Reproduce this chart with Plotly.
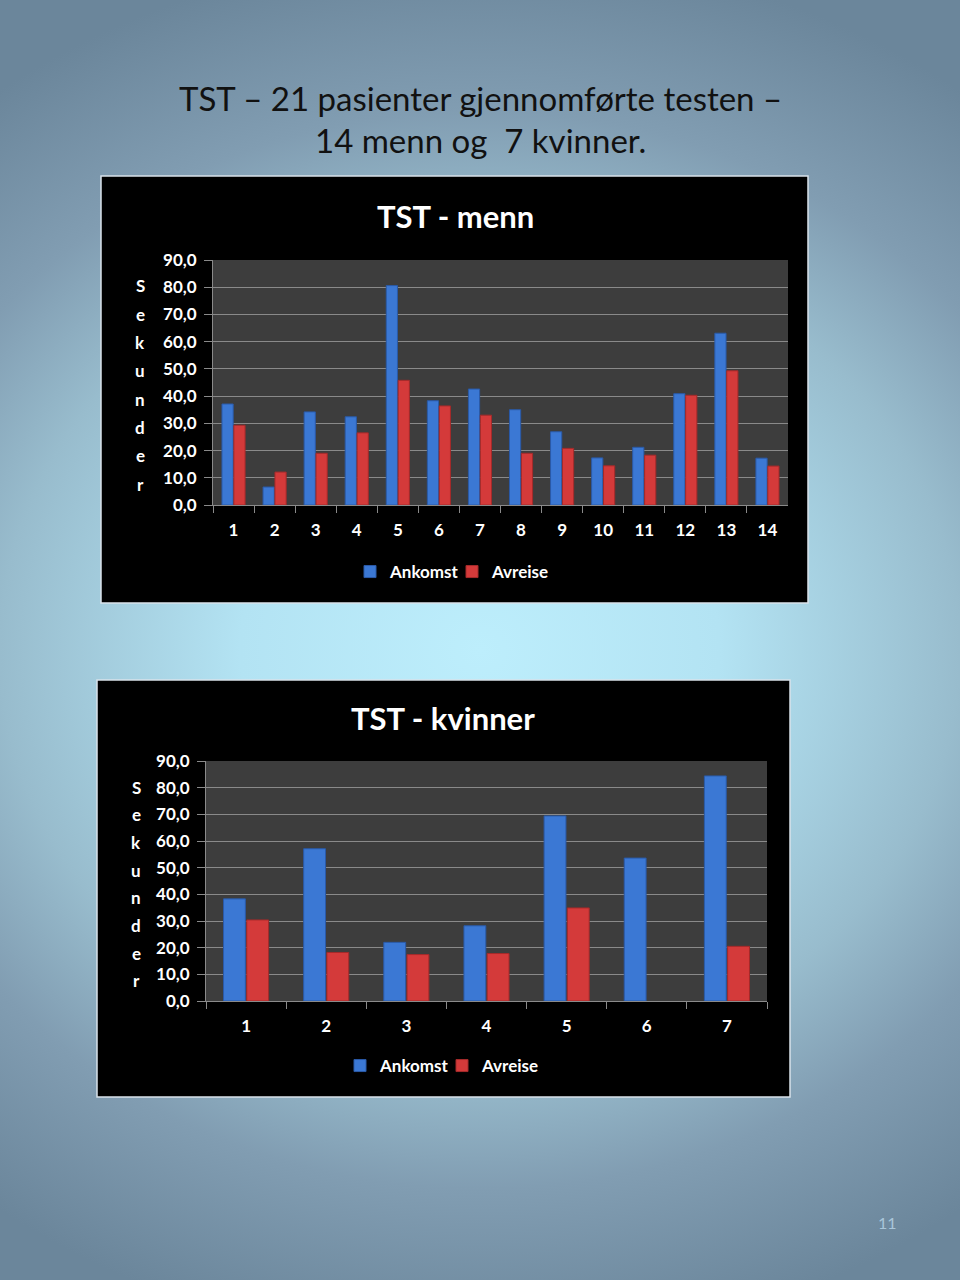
import base64
import plotly.graph_objects as go

# ---------------- data ----------------
men_patients = ["1", "2", "3", "4", "5", "6", "7", "8", "9", "10", "11", "12", "13", "14"]
men_ankomst = [37.1, 6.6, 34.2, 32.4, 80.6, 38.3, 42.6, 35.0, 26.9, 17.3, 21.2, 40.9, 63.1, 17.2]
men_avreise = [29.3, 12.1, 19.0, 26.5, 45.8, 36.4, 33.0, 19.0, 20.8, 14.4, 18.3, 40.3, 49.3, 14.3]

women_patients = ["1", "2", "3", "4", "5", "6", "7"]
women_ankomst = [38.3, 57.1, 22.0, 28.2, 69.4, 53.6, 84.4]
women_avreise = [30.4, 18.2, 17.4, 17.8, 34.9, None, 20.5]

y_tickvals = [0, 10, 20, 30, 40, 50, 60, 70, 80, 90]
y_ticktext = ["0,0", "10,0", "20,0", "30,0", "40,0", "50,0", "60,0", "70,0", "80,0", "90,0"]

series_names = ["Ankomst", "Avreise"]
y_title_letters = ["S", "e", "k", "u", "n", "d", "e", "r"]

page_title_1 = "TST – 21 pasienter gjennomførte testen –"
page_title_2 = "14 menn og  7 kvinner."
chart_title_men = "TST - menn"
chart_title_women = "TST - kvinner"
page_number = "11"

# ---------------- style ----------------
W, H = 960, 1280
BLUE = "#3b78d4"
BLUE_LINE = "#2a5aa8"
RED = "#d43a3a"
RED_LINE = "#a52a2a"
PLOT_BG = "#3d3d3d"
GRID = "#8a8a8a"
FONT = "Lato"


def px(x):
    return x / W


def py(y):
    return 1 - y / H


svg = f"""<svg xmlns="http://www.w3.org/2000/svg" width="{W}" height="{H}" viewBox="0 0 {W} {H}" preserveAspectRatio="none">
<defs><radialGradient id="g" gradientUnits="userSpaceOnUse" cx="480" cy="650" r="800"
 gradientTransform="translate(480 650) scale(1 0.875) translate(-480 -650)">
<stop offset="0" stop-color="#bdeefc"/>
<stop offset="0.3" stop-color="#b3e3f3"/>
<stop offset="0.6" stop-color="#98bccd"/>
<stop offset="0.77" stop-color="#819db2"/>
<stop offset="1" stop-color="#6b869b"/>
</radialGradient></defs>
<rect x="0" y="0" width="{W}" height="{H}" fill="url(#g)"/></svg>"""
bg_uri = "data:image/svg+xml;base64," + base64.b64encode(svg.encode("utf-8")).decode("ascii")

fig = go.Figure()

fig.add_trace(go.Bar(x=men_patients, y=men_ankomst, name=series_names[0],
                     marker=dict(color=BLUE, line=dict(color=BLUE_LINE, width=1)),
                     xaxis="x", yaxis="y", legend="legend"))
fig.add_trace(go.Bar(x=men_patients, y=men_avreise, name=series_names[1],
                     marker=dict(color=RED, line=dict(color=RED_LINE, width=1)),
                     xaxis="x", yaxis="y", legend="legend"))
fig.add_trace(go.Bar(x=women_patients, y=women_ankomst, name=series_names[0],
                     marker=dict(color=BLUE, line=dict(color=BLUE_LINE, width=1)),
                     xaxis="x2", yaxis="y2", legend="legend2"))
fig.add_trace(go.Bar(x=women_patients, y=women_avreise, name=series_names[1],
                     marker=dict(color=RED, line=dict(color=RED_LINE, width=1)),
                     xaxis="x2", yaxis="y2", legend="legend2"))

tickfont = dict(family=FONT, size=17, color="white", weight="bold")

xaxis_common = dict(type="category", showgrid=False, showline=True, linecolor=GRID, linewidth=1,
                    ticks="outside", tickson="boundaries", ticklen=7, tickcolor=GRID,
                    tickfont=tickfont, ticklabelstandoff=10, fixedrange=True, automargin=False)
yaxis_common = dict(range=[0, 90], tickvals=y_tickvals, ticktext=y_ticktext, showgrid=True,
                    gridcolor=GRID, gridwidth=1, showline=True, linecolor=GRID, linewidth=1,
                    ticks="outside", ticklen=8, tickcolor=GRID, tickfont=tickfont,
                    ticklabelstandoff=4, zeroline=False, fixedrange=True, automargin=False)

shapes = []
annotations = []


def panel(x0, y0, x1, y1, pl, pt, pr, pb):
    shapes.append(dict(type="rect", xref="paper", yref="paper", x0=px(x0), x1=px(x1),
                       y0=py(y1), y1=py(y0), fillcolor="black",
                       line=dict(color="#d9e2ea", width=1.5), layer="below"))
    shapes.append(dict(type="rect", xref="paper", yref="paper", x0=px(pl), x1=px(pr),
                       y0=py(pb), y1=py(pt), fillcolor=PLOT_BG, line=dict(width=0), layer="below"))


panel(101, 176, 808, 603, 213, 260, 788, 505)
panel(97, 680, 790, 1097, 206, 761, 767, 1001)

# page titles
annotations.append(dict(text=page_title_1, x=px(480), y=py(98), xref="paper", yref="paper",
                        showarrow=False, font=dict(family=FONT, size=33, color="#111111"),
                        xanchor="center", yanchor="middle"))
annotations.append(dict(text=page_title_2, x=px(480), y=py(140), xref="paper", yref="paper",
                        showarrow=False, font=dict(family=FONT, size=33, color="#111111"),
                        xanchor="center", yanchor="middle"))
# chart titles
annotations.append(dict(text=chart_title_men, x=px(455), y=py(216), xref="paper", yref="paper",
                        showarrow=False, font=dict(family=FONT, size=31, color="white", weight="bold"),
                        xanchor="center", yanchor="middle"))
annotations.append(dict(text=chart_title_women, x=px(443), y=py(718), xref="paper", yref="paper",
                        showarrow=False, font=dict(family=FONT, size=31, color="white", weight="bold"),
                        xanchor="center", yanchor="middle"))
# vertical "Sekunder" letters
for i, ch in enumerate(y_title_letters):
    annotations.append(dict(text=ch, x=px(140), y=py(286 + 28.3 * i), xref="paper", yref="paper",
                            showarrow=False, font=dict(family=FONT, size=17, color="white", weight="bold"),
                            xanchor="center", yanchor="middle"))
    annotations.append(dict(text=ch, x=px(136), y=py(787 + 27.7 * i), xref="paper", yref="paper",
                            showarrow=False, font=dict(family=FONT, size=17, color="white", weight="bold"),
                            xanchor="center", yanchor="middle"))
# page number
annotations.append(dict(text=page_number, x=px(887), y=py(1222), xref="paper", yref="paper",
                        showarrow=False, font=dict(family=FONT, size=16, color="#a9c6da"),
                        xanchor="center", yanchor="middle"))

legend_common = dict(orientation="h", yanchor="middle", bgcolor="rgba(0,0,0,0)",
                     font=dict(family=FONT, size=17, color="white", weight="bold"),
                     itemwidth=30, entrywidth=57, itemclick=False, itemdoubleclick=False)

fig.update_layout(
    width=W, height=H, autosize=False,
    margin=dict(l=0, r=0, t=0, b=0, pad=0, autoexpand=False),
    paper_bgcolor="#9cc4d6", plot_bgcolor="rgba(0,0,0,0)",
    barmode="group", bargap=0.42, bargroupgap=0.06,
    xaxis=dict(domain=[px(213), px(788)], anchor="y", **xaxis_common),
    yaxis=dict(domain=[py(505), py(260)], anchor="x", **yaxis_common),
    xaxis2=dict(domain=[px(206), px(767)], anchor="y2", **xaxis_common),
    yaxis2=dict(domain=[py(1001), py(761)], anchor="x2", **yaxis_common),
    legend=dict(x=px(350), xanchor="left", y=py(572), **legend_common),
    legend2=dict(x=px(340), xanchor="left", y=py(1066), **legend_common),
    shapes=shapes, annotations=annotations,
    images=[dict(source=bg_uri, xref="paper", yref="paper", x=0, y=1, sizex=1, sizey=1,
                 xanchor="left", yanchor="top", sizing="stretch", layer="below")],
    showlegend=True,
)

fig.write_html("out.html", config={"displayModeBar": False})
